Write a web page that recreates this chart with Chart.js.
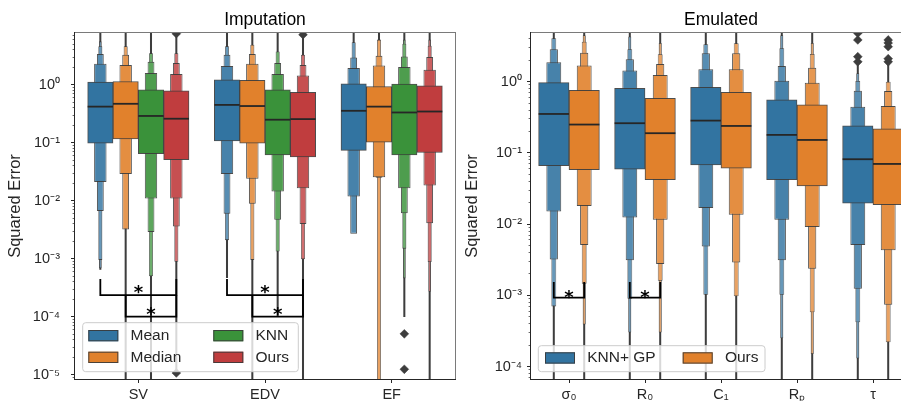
<!DOCTYPE html>
<html><head><meta charset="utf-8">
<script src="https://cdn.jsdelivr.net/npm/chart.js@4.4.1/dist/chart.umd.min.js"></script>
<style>
html,body{margin:0;padding:0;background:#fff;overflow:hidden;}
#wrap{position:relative;width:901px;height:401px;overflow:hidden;}
canvas{position:absolute;top:0;}
#c1{left:0;} #c2{left:460px;}
</style></head><body>
<div id="wrap"><canvas id="c1" width="460" height="401"></canvas><canvas id="c2" width="460" height="401"></canvas></div>
<script>
// ================= DATA =================
// ---- Imputation panel ----
const IMP_CATEGORIES = ['SV', 'EDV', 'EF'];
const IMP_METHODS = ['Mean', 'Median', 'KNN', 'Ours'];
const IMP_Y_RANGE = [8.5e-6, 7.8];

// medians per category
const IMP_MEAN_MEDIAN = [0.42, 0.45, 0.356];
// letter-value boxes per category, [low, high], from the quartile box outwards
const IMP_MEAN_LV = [
  [[0.099, 1.11], [0.021, 2.3], [0.0067, 3.4], [0.00096, 4.6], [0.00069, 5.6]],
  [[0.108, 1.22], [0.029, 2.1], [0.006, 3.3], [0.0021, 4.6]],
  [[0.074, 1.04], [0.0119, 1.94], [0.0027, 2.95], [0.003, 5.4]]
];
// extent of the dense outlier strip [min, max]
const IMP_MEAN_TAIL = [[0.00065, 20], [0.00047, 20], [0.003, 20]];
const IMP_MEAN_FLIERS = [[], [], []];

const IMP_MEDIAN_MEDIAN = [0.47, 0.43, 0.42];
const IMP_MEDIAN_LV = [
  [[0.117, 1.14], [0.029, 2.2], [0.0032, 3.3], [0.0033, 4.6]],
  [[0.099, 1.19], [0.024, 2.3], [0.0089, 3.4], [0.00096, 4.9]],
  [[0.103, 0.935], [0.0256, 2.15], [0.025, 3.16], [1e-7, 6]]
];
const IMP_MEDIAN_TAIL = [[1e-7, 20], [1e-7, 20], [1e-7, 20]];
const IMP_MEDIAN_FLIERS = [[], [], []];

const IMP_KNN_MEDIAN = [0.29, 0.25, 0.333];
const IMP_KNN_LV = [
  [[0.065, 0.82], [0.011, 1.6], [0.0029, 2.5], [0.0005, 3.5]],
  [[0.062, 0.82], [0.0145, 1.53], [0.0047, 2.37], [0.00134, 3.75]],
  [[0.062, 1.03], [0.0165, 2.02], [0.0061, 3.07], [0.0015, 5.1], [0.00046, 6]]
];
const IMP_KNN_TAIL = [[1e-7, 20], [0.0001, 20], [0.0001, 20]];
const IMP_KNN_FLIERS = [[], [], [5.1e-5, 1.25e-5]];

const IMP_OURS_MEDIAN = [0.26, 0.256, 0.346];
const IMP_OURS_LV = [
  [[0.051, 0.79], [0.011, 1.53], [0.0036, 2.37], [0.00089, 3.5]],
  [[0.057, 0.74], [0.0165, 1.45], [0.004, 2.2], [0.00098, 3.3]],
  [[0.068, 0.96], [0.0184, 1.81], [0.0041, 3.0], [0.00088, 4.7], [0.00027, 6]]
];
const IMP_OURS_TAIL = [[1.08e-5, 7.6], [1e-7, 7.3], [1e-7, 20]];
const IMP_OURS_FLIERS = [[7.6, 1.08e-5], [7.3], []];

// significance brackets: [category, hue a, hue b, bar value, end value]
const IMP_BRACKETS = [
  [0, 0, 3, 2.37e-4, 4.5e-4],
  [0, 1, 3, 1.01e-4, 2.37e-4],
  [1, 0, 3, 2.37e-4, 4.5e-4],
  [1, 1, 3, 1.01e-4, 2.37e-4]
];

// ---- Emulated panel ----
const EMU_CATEGORIES = ['σ₀', 'R₀', 'C₁', 'Rₚ', 'τ'];
const EMU_METHODS = ['KNN+ GP', 'Ours'];
const EMU_Y_RANGE = [6.7e-5, 4.82];

const EMU_KNN_MEDIAN = [0.352, 0.261, 0.284, 0.179, 0.0815];
const EMU_KNN_LV = [
  [[0.066, 0.968], [0.015, 1.87], [0.0032, 2.85], [0.0007, 4.06]],
  [[0.059, 0.807], [0.0124, 1.43], [0.0031, 2.06], [0.0009, 2.85], [0.0003, 4.3]],
  [[0.068, 0.834], [0.0168, 1.49], [0.00485, 2.5], [0.00102, 3.35]],
  [[0.042, 0.554], [0.0115, 1.03], [0.0031, 1.66], [0.00102, 2.94], [0.00025, 4.5]],
  [[0.0197, 0.239], [0.0051, 0.446], [0.00124, 0.748], [0.00042, 1.02], [0.00013, 1.31]]
];
const EMU_KNN_TAIL = [[1e-7, 20], [1e-7, 20], [1e-7, 20], [1e-7, 20], [1e-7, 1.8]];
const EMU_KNN_FLIERS = [[], [], [], [], [1.9, 2.24, 3.85, 4.8]];

const EMU_OURS_MEDIAN = [0.25, 0.189, 0.239, 0.152, 0.07];
const EMU_OURS_LV = [
  [[0.058, 0.757], [0.018, 1.68], [0.0051, 2.55], [0.00146, 3.64], [0.00039, 4.5]],
  [[0.042, 0.585], [0.0115, 1.24], [0.00275, 1.77], [0.0016, 2.42], [0.0003, 3.5]],
  [[0.061, 0.71], [0.0135, 1.49], [0.0029, 2.5], [0.00097, 3.46]],
  [[0.0345, 0.471], [0.0091, 0.968], [0.00236, 1.57], [0.00058, 2.45], [0.00015, 3.5]],
  [[0.0187, 0.217], [0.0043, 0.456], [0.00074, 0.74], [0.00022, 1.0]]
];
const EMU_OURS_TAIL = [[1e-7, 20], [1e-7, 20], [1e-7, 20], [1e-7, 20], [1e-7, 1.8]];
const EMU_OURS_FLIERS = [[], [], [], [], [1.9, 2.1, 3.1, 3.5, 3.85]];

const EMU_BRACKETS = [
  [0, 0, 1, 9.3e-4, 1.54e-3],
  [1, 0, 1, 9.3e-4, 1.54e-3]
];

// ================= STYLE =================
const FONT = "'Liberation Sans', Arial, Helvetica, sans-serif";
const INK = '#262626';
const COLORS4 = ['#3274a1', '#e1812c', '#3a923a', '#c03d3e'];
const LEVEL_WIDTH = [1, 0.49, 0.27, 0.16, 0.1];
const LEVEL_LIGHTEN = [0, 0.1, 0.18, 0.26, 0.34];
const EDGE = 'rgba(58,58,58,0.9)';
const FLIER = '#3d3d3d';

function mix(hex, t) {
  const n = parseInt(hex.slice(1), 16);
  const f = v => Math.round(v + (255 - v) * t);
  return 'rgb(' + f(n >> 16) + ',' + f((n >> 8) & 255) + ',' + f(n & 255) + ')';
}
const SUP = {'-': '⁻', '0': '⁰', '1': '¹', '2': '²', '3': '³', '4': '⁴', '5': '⁵', '6': '⁶', '7': '⁷', '8': '⁸', '9': '⁹'};
const sup = n => String(n).split('').map(ch => SUP[ch]).join('');
const isDecade = v => Math.abs(Math.log10(v) - Math.round(Math.log10(v))) < 1e-6;
function logTicks(min, max) {
  const t = [];
  for (let e = Math.floor(Math.log10(min)); e <= Math.ceil(Math.log10(max)); e++) {
    for (let m = 1; m <= 9; m++) {
      const v = m * Math.pow(10, e);
      if (v >= min && v <= max) t.push({value: v, major: m === 1});
    }
  }
  return t;
}

function panelDatasets(p) {
  const ds = [];
  const n = p.methods.length, slot = 0.8 / n;
  const halfSlot = chart => Math.abs(chart.scales.x.getPixelForValue(slot) - chart.scales.x.getPixelForValue(0)) / 2;
  p.methods.forEach((name, h) => {
    const off = (h - (n - 1) / 2) * slot;
    const at = c => c + off;
    ds.push({type: 'bar', label: name + ' outliers', data: p.tails[h].map((r, c) => ({x: at(c), y: r})),
      backgroundColor: FLIER, borderWidth: 0, barPercentage: p.tailWidth, categoryPercentage: 1,
      grouped: false, order: 100, clip: 0});
    const nLev = Math.max(...p.lv[h].map(a => a.length));
    for (let k = 0; k < nLev; k++) {
      const data = [];
      p.lv[h].forEach((levels, c) => { if (levels[k]) data.push({x: at(c), y: levels[k]}); });
      ds.push({type: 'bar', label: name, data, backgroundColor: mix(p.colors[h], LEVEL_LIGHTEN[k]),
        borderColor: EDGE, borderWidth: k < 3 ? 1 : 0.8, borderSkipped: false,
        barPercentage: LEVEL_WIDTH[k], categoryPercentage: 1, grouped: false, order: 20 + 10 * k, clip: 0});
    }
    ds.push({type: 'scatter', label: name + ' median', data: p.medians[h].map((m, c) => ({x: at(c), y: m})),
      pointStyle: 'line', pointRadius: ctx => halfSlot(ctx.chart), pointBorderWidth: 1.8,
      pointBorderColor: '#262626', order: 5, clip: 0});
    const fl = [];
    p.fliers[h].forEach((arr, c) => arr.forEach(v => fl.push({x: at(c), y: v})));
    if (fl.length) ds.push({type: 'scatter', label: name + ' fliers', data: fl, pointStyle: 'rectRot',
      pointRadius: 4.4, pointBackgroundColor: FLIER, pointBorderColor: FLIER, pointBorderWidth: 0.5, order: 8, clip: 0});
  });
  p.brackets.forEach(([c, a, b, v, e]) => {
    const xa = c + (a - (n - 1) / 2) * slot, xb = c + (b - (n - 1) / 2) * slot;
    ds.push({type: 'line', label: 'bracket', data: [{x: xa, y: e}, {x: xa, y: v}, {x: xb, y: v}, {x: xb, y: e}],
      borderColor: '#000', borderWidth: 1.8, pointRadius: 0, fill: false, tension: 0, order: 1, clip: 0});
  });
  const stars = p.brackets.map(([c, a, b, v]) => ({x: c + ((a + b) / 2 - (n - 1) / 2) * slot, y: v}));
  return {ds, stars};
}

const decor = {
  id: 'decor',
  afterDraw(chart, args, o) {
    const {ctx, chartArea: a} = chart;
    const x = chart.scales.x, y = chart.scales.y;
    ctx.save();
    const seg = (x1, y1, x2, y2) => { ctx.beginPath(); ctx.moveTo(x1, y1); ctx.lineTo(x2, y2); ctx.stroke(); };
    ctx.lineWidth = 1;
    ctx.strokeStyle = '#7a7a7a';
    seg(a.left - 1, a.top - 0.5, a.right + 1, a.top - 0.5);
    seg(a.right + 0.5, a.top - 1, a.right + 0.5, a.bottom + 1);
    ctx.strokeStyle = INK;
    seg(a.left - 0.5, a.top - 1, a.left - 0.5, a.bottom + 1);
    seg(a.left - 1, a.bottom + 0.5, a.right + 1, a.bottom + 0.5);
    // asterisks
    ctx.fillStyle = '#000';
    ctx.font = o.starFont;
    ctx.textAlign = 'center';
    ctx.textBaseline = 'alphabetic';
    o.stars.forEach(s => ctx.fillText('*', x.getPixelForValue(s.x), y.getPixelForValue(s.y) + o.starShift));
    // legend
    const L = o.legend;
    const bx = a.left + L.dx, by = a.bottom - L.dy - L.h;
    ctx.beginPath();
    if (ctx.roundRect) ctx.roundRect(bx, by, L.w, L.h, 3); else ctx.rect(bx, by, L.w, L.h);
    ctx.fillStyle = 'rgba(255,255,255,0.8)';
    ctx.fill();
    ctx.strokeStyle = '#cccccc';
    ctx.lineWidth = 1;
    ctx.stroke();
    ctx.font = L.font;
    ctx.textAlign = 'left';
    ctx.textBaseline = 'middle';
    L.labels.forEach((lab, i) => {
      const col = Math.floor(i / L.rows), row = i % L.rows;
      const px = bx + L.padX + col * L.colStep, py = by + L.padY + row * L.rowStep;
      ctx.fillStyle = L.colors[i];
      ctx.fillRect(px, py, L.pw, L.ph);
      ctx.strokeStyle = EDGE;
      ctx.strokeRect(px + 0.5, py + 0.5, L.pw - 1, L.ph - 1);
      ctx.fillStyle = INK;
      ctx.fillText(lab, px + L.textDx, py + L.ph / 2);
    });
    ctx.restore();
  }
};
Chart.register(decor);

function xScale(cats) {
  return {
    type: 'linear', min: -0.5, max: cats.length - 0.5, offset: false,
    afterBuildTicks: s => { s.ticks = cats.map((_, i) => ({value: i})); },
    afterFit: s => { s.height = 22; },
    ticks: {autoSkip: false, maxRotation: 0, color: INK, font: {family: FONT, size: 14.5}, padding: 3,
      callback: v => cats[Math.round(v)]},
    grid: {display: true, drawOnChartArea: false, drawTicks: true, tickLength: 4, tickColor: INK, tickWidth: 1, offset: false},
    border: {display: false}
  };
}
function yScale(range, axisW, tickPad, titlePad) {
  const maj = c => c.tick && isDecade(c.tick.value);
  return {
    type: 'logarithmic', min: range[0], max: range[1],
    afterBuildTicks: s => { s.ticks = logTicks(range[0], range[1]); },
    afterFit: s => { s.width = axisW; },
    ticks: {autoSkip: false, color: INK, font: {family: FONT, size: 14.5}, padding: tickPad,
      callback: v => isDecade(v) ? '10' + sup(Math.round(Math.log10(v))) : ''},
    grid: {display: true, drawOnChartArea: false, drawTicks: true, tickLength: 4, tickColor: INK,
      tickWidth: c => maj(c) ? 1 : 0.7,
      tickBorderDash: c => maj(c) ? [] : [0, 1.6, 2.4, 20]},
    border: {display: false},
    title: {display: true, text: 'Squared Error', color: INK, font: {family: FONT, size: 16.5},
      padding: {top: titlePad, bottom: 0}}
  };
}

function makeChart(id, p, st) {
  const built = panelDatasets(p);
  return new Chart(document.getElementById(id), {
    type: 'bar',
    data: {datasets: built.ds},
    options: {
      responsive: false, animation: false, events: [],
      layout: {padding: {left: 0, right: st.padRight, top: 0, bottom: 0}},
      plugins: {
        legend: {display: false}, tooltip: {enabled: false},
        title: {display: true, text: p.title, fullSize: false, color: '#000',
          font: {family: FONT, size: 17.5, weight: 'normal'}, padding: {top: 9.5, bottom: 2.5}},
        decor: {stars: built.stars, starFont: 'bold 18px "DejaVu Sans"', starShift: st.starShift,
          legend: Object.assign({labels: p.methods, colors: p.colors, font: '15.5px ' + FONT, pw: 30, ph: 11.3, textDx: 42.2}, st.legend)}
      },
      scales: {x: xScale(p.categories), y: yScale(p.yRange, st.axisW, st.tickPad, st.titlePad)}
    }
  });
}

makeChart('c1', {
  title: 'Imputation', categories: IMP_CATEGORIES, methods: IMP_METHODS, yRange: IMP_Y_RANGE,
  colors: COLORS4,
  medians: [IMP_MEAN_MEDIAN, IMP_MEDIAN_MEDIAN, IMP_KNN_MEDIAN, IMP_OURS_MEDIAN],
  lv: [IMP_MEAN_LV, IMP_MEDIAN_LV, IMP_KNN_LV, IMP_OURS_LV],
  tails: [IMP_MEAN_TAIL, IMP_MEDIAN_TAIL, IMP_KNN_TAIL, IMP_OURS_TAIL],
  fliers: [IMP_MEAN_FLIERS, IMP_MEDIAN_FLIERS, IMP_KNN_FLIERS, IMP_OURS_FLIERS],
  brackets: IMP_BRACKETS, tailWidth: 0.08
}, {padRight: 5, axisW: 75, tickPad: 11, titlePad: 6, starShift: 3,
  legend: {dx: 7.7, dy: 7.3, w: 215.6, h: 49, padX: 5.6, padY: 7.3, rowStep: 21.7, colStep: 125, rows: 2}});

makeChart('c2', {
  title: 'Emulated', categories: EMU_CATEGORIES, methods: EMU_METHODS, yRange: EMU_Y_RANGE,
  colors: COLORS4.slice(0, 2),
  medians: [EMU_KNN_MEDIAN, EMU_OURS_MEDIAN],
  lv: [EMU_KNN_LV, EMU_OURS_LV],
  tails: [EMU_KNN_TAIL, EMU_OURS_TAIL],
  fliers: [EMU_KNN_FLIERS, EMU_OURS_FLIERS],
  brackets: EMU_BRACKETS, tailWidth: 0.066
}, {padRight: 9, axisW: 71, tickPad: 5, titlePad: 3, starShift: 5,
  legend: {dx: 7.3, dy: 7.3, w: 226.7, h: 26, padX: 6.7, padY: 6.6, rowStep: 0, colStep: 137.7, rows: 1}});
</script></body></html>
